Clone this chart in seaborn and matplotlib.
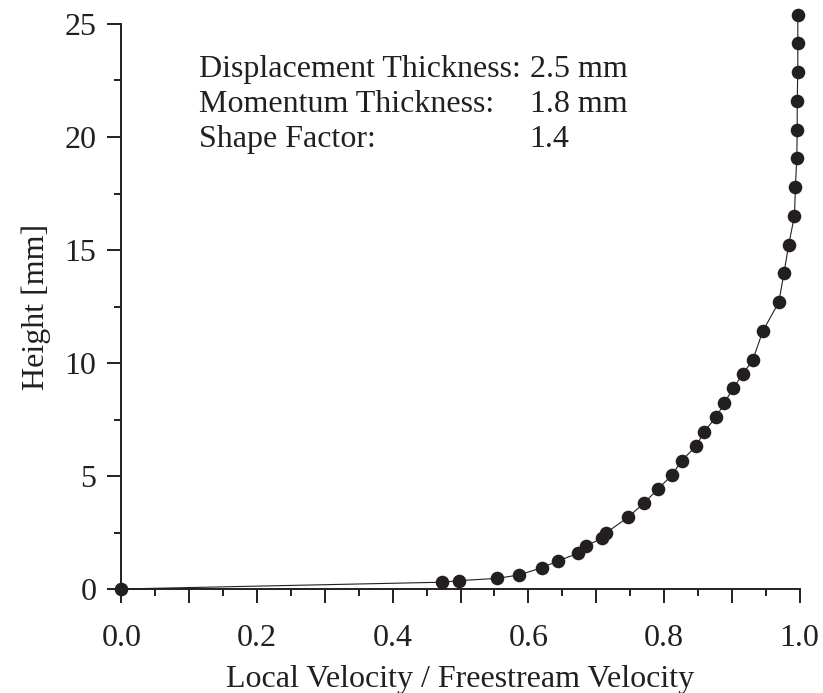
import matplotlib
matplotlib.use("Agg")
import matplotlib.pyplot as plt
import seaborn as sns
import pandas as pd
from matplotlib.ticker import MultipleLocator, FuncFormatter

# Data
velocity_ratio = [0.0, 0.473, 0.4975, 0.554, 0.586, 0.620, 0.6435, 0.6736, 0.6854, 0.708,
                  0.715, 0.747, 0.771, 0.791, 0.812, 0.826, 0.848, 0.859, 0.877, 0.889,
                  0.902, 0.916, 0.931, 0.946, 0.9695, 0.977, 0.984, 0.9926, 0.994, 0.996,
                  0.9966, 0.9966, 0.9975, 0.9975, 0.9975]
height_mm = [0.0, 0.30, 0.37, 0.47, 0.62, 0.94, 1.24, 1.58, 1.90, 2.24,
             2.49, 3.17, 3.81, 4.42, 5.04, 5.68, 6.33, 6.96, 7.60, 8.22,
             8.88, 9.50, 10.13, 11.42, 12.69, 13.97, 15.22, 16.52, 17.80, 19.06,
             20.31, 21.61, 22.86, 24.15, 25.40]
info_labels = ["Displacement Thickness:", "Momentum Thickness:", "Shape Factor:"]
info_values = ["2.5 mm", "1.8 mm", "1.4"]

sns.set_theme(style="ticks")
plt.rcParams['font.family'] = ['Liberation Serif', 'DejaVu Serif']
plt.rcParams['mathtext.fontset'] = 'stix'

FS = 23
INK = "#231f20"

df = pd.DataFrame({"u": velocity_ratio, "h": height_mm})

fig = plt.figure(figsize=(8.23, 6.93), dpi=100)
ax = fig.add_axes([121.5 / 823, (693 - 589) / 693, 678 / 823, 565 / 693])

sns.lineplot(data=df, x="u", y="h", sort=False, estimator=None, ax=ax,
             color=INK, linewidth=0.8, marker="o", markersize=9.8,
             markeredgewidth=0, markerfacecolor=INK, clip_on=False, zorder=5)
for line in ax.lines:
    line.set_clip_on(False)

ax.set_xlim(0, 1.0)
ax.set_ylim(0, 25)

ax.xaxis.set_major_locator(MultipleLocator(0.1))
ax.xaxis.set_minor_locator(MultipleLocator(0.05))
ax.xaxis.set_major_formatter(FuncFormatter(
    lambda v, p: f"{v:.1f}" if abs(round(v / 0.2) * 0.2 - v) < 1e-6 else ""))
ax.yaxis.set_major_locator(MultipleLocator(5))
ax.yaxis.set_minor_locator(MultipleLocator(2.5))

sns.despine(ax=ax)
for s in ("left", "bottom"):
    ax.spines[s].set_linewidth(1.4)
    ax.spines[s].set_color(INK)

ax.tick_params(which="major", direction="out", length=10, width=1.4, color=INK,
               labelsize=FS, labelcolor=INK)
ax.tick_params(which="minor", direction="out", length=5, width=1.4, color=INK)
ax.tick_params(axis="x", which="major", pad=15)
ax.tick_params(axis="y", which="major", pad=8)

ax.set_xlabel("Local Velocity / Freestream Velocity", fontsize=FS, color=INK, labelpad=9)
ax.set_ylabel("Height [mm]", fontsize=FS, color=INK, labelpad=10)

ys = [0.906, 0.844, 0.782]
for lab, val, yy in zip(info_labels, info_values, ys):
    ax.text(0.114, yy, lab, transform=ax.transAxes, fontsize=FS, color=INK,
            va="baseline", ha="left")
    ax.text(0.602, yy, val, transform=ax.transAxes, fontsize=FS, color=INK,
            va="baseline", ha="left")

fig.savefig("out.png", dpi=100)
